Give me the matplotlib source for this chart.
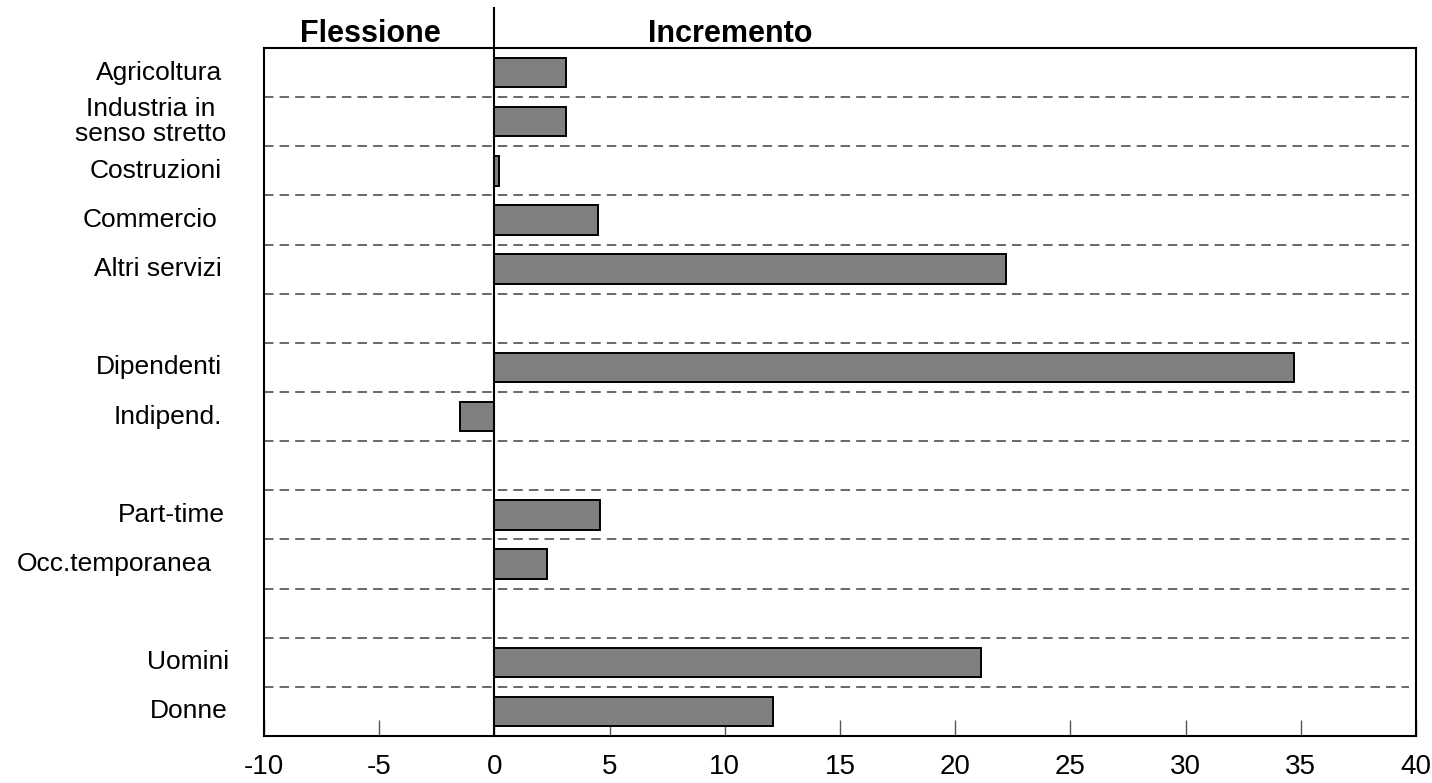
import matplotlib
matplotlib.use("Agg")
import matplotlib.pyplot as plt
import matplotlib.transforms as mtransforms

# ---- data ----
sector_labels = ['Agricoltura', 'Industria in\nsenso stretto', 'Costruzioni', 'Commercio', 'Altri servizi']
sector_values = [3.1, 3.1, 0.2, 4.5, 22.2]
position_labels = ['Dipendenti', 'Indipend.']
position_values = [34.7, -1.5]
contract_labels = ['Part-time', 'Occ.temporanea']
contract_values = [4.6, 2.3]
gender_labels = ['Uomini', 'Donne']
gender_values = [21.1, 12.1]
xticks = [-10, -5, 0, 5, 10, 15, 20, 25, 30, 35, 40]
header_left = 'Flessione'
header_right = 'Incremento'

groups = [(sector_labels, sector_values), (position_labels, position_values),
          (contract_labels, contract_values), (gender_labels, gender_values)]

# ---- layout of rows (blank row between groups) ----
labels, values, rows = [], [], []
r = 0
for gi, (labs, vals) in enumerate(groups):
    for lab, v in zip(labs, vals):
        labels.append(lab); values.append(v); rows.append(r); r += 1
    if gi < len(groups) - 1:
        r += 1
n_rows = r

plt.rcParams['font.family'] = ['Liberation Sans', 'DejaVu Sans']

W, H, DPI = 1432, 783, 100
fig = plt.figure(figsize=(W / DPI, H / DPI), dpi=DPI)
left_px, right_px, top_px, bottom_px = 264, 1416, 48, 736
ax = fig.add_axes([left_px / W, 1 - bottom_px / H, (right_px - left_px) / W, (bottom_px - top_px) / H])

ax.set_xlim(-10, 40)
ax.set_ylim(n_rows - 0.5, -0.5)

# dashed separators
for b in range(n_rows - 1):
    ax.plot([-10, 39.7], [b + 0.5, b + 0.5], color='#404040', lw=1.1,
            dashes=(6.2, 4.0), zorder=1)

ax.barh(rows, values, height=0.6, color='#808080', edgecolor='black', linewidth=1.4, zorder=3)

# zero line extending above the axes
blend = mtransforms.blended_transform_factory(ax.transData, ax.transAxes)
ax.plot([0, 0], [0, 1.058], transform=blend, color='black', lw=1.5, clip_on=False, zorder=4)

for s in ax.spines.values():
    s.set_linewidth(1.5)
    s.set_color('black')

ax.set_xticks(xticks)
ax.set_xticklabels([str(t) for t in xticks])
ax.tick_params(axis='x', direction='in', length=11.5, width=1.0, color='#555555',
               labelsize=20, pad=13)
ax.set_yticks([])

# category labels (right aligned left of the axes)
label_right_px = {'Commercio': 217, 'Part-time': 225, 'Occ.temporanea': 212,
                  'Uomini': 229, 'Donne': 228, 'Industria in\nsenso stretto': 226}
for lab, rr in zip(labels, rows):
    xr = label_right_px.get(lab, 222)
    tr = mtransforms.blended_transform_factory(fig.transFigure, ax.transData)
    ax.text(xr / W, rr, lab, transform=tr, ha='right', va='center', fontsize=19,
            multialignment='center', linespacing=1.05)

fig.text(370.5 / W, 1 - 42.3 / H, header_left, ha='center', va='baseline',
         fontsize=22, fontweight='bold')
fig.text(730 / W, 1 - 42.3 / H, header_right, ha='center', va='baseline',
         fontsize=22, fontweight='bold')

fig.savefig('out.png', dpi=DPI, facecolor='white')
